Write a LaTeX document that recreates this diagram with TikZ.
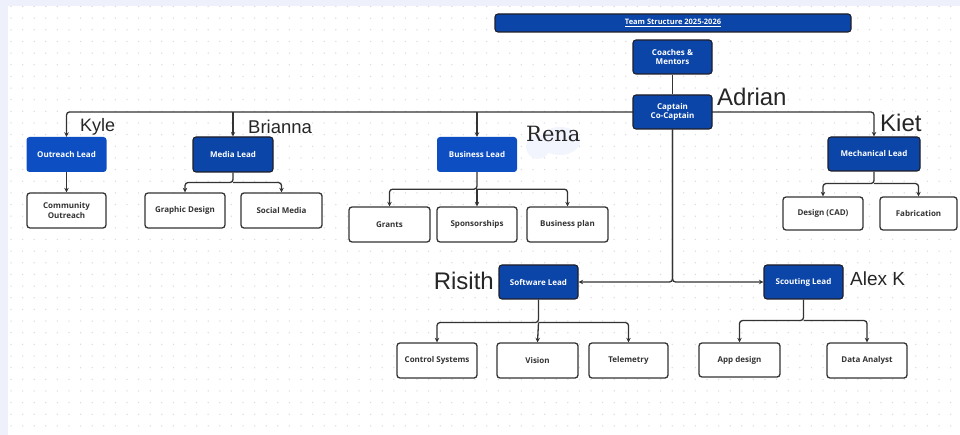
\documentclass[tikz,border=0pt]{standalone}
\usepackage{fontspec}
\setmainfont{Liberation Sans}
\newfontfamily\boxfont{Open Sans}
\newfontfamily\serifname{DejaVu Serif}
\usetikzlibrary{arrows.meta}
\pgfdeclarelayer{paper}
\pgfdeclarelayer{wires}
\pgfsetlayers{paper,wires,main}
\definecolor{bgstrip}{HTML}{EEF1FB}
\definecolor{dotc}{HTML}{D9DBE0}
\definecolor{darkblue}{HTML}{0B45A8}
\definecolor{brightblue}{HTML}{0D4FC2}
\definecolor{linec}{HTML}{333333}
\definecolor{edgec}{HTML}{1E1E28}
\definecolor{blob}{HTML}{F3F5FE}
\tikzset{
  base/.style={rounded corners=3pt, inner sep=1pt, align=center,
    font=\boxfont\bfseries\fontsize{8}{9.5}\selectfont},
  lead/.style={base, fill=darkblue, draw=edgec, line width=1.1pt, text=white},
  leadnb/.style={base, fill=brightblue, text=white},
  sub/.style={base, fill=white, draw=linec, line width=1.3pt, text=linec},
  conn/.style={draw=linec, line width=1.3pt, rounded corners=3pt},
  arr/.style={conn, -{Stealth[length=4.5pt,width=4.5pt]}},
  who/.style={inner sep=0pt, text=black!85, font=\fontsize{18}{20}\selectfont},
}
\begin{document}
\begin{tikzpicture}[x=1pt,y=-1pt]
\useasboundingbox (0,0) rectangle (960,435);
\begin{pgfonlayer}{paper}
\fill[bgstrip] (0,0) rectangle (960,435);
\fill[white] (8,6) rectangle (960,435);
\begin{scope}
\clip (8,6) rectangle (960,435);
\foreach \i in {0,...,81}{
  \foreach \j in {0,...,36}{
    \fill[dotc] ({11+11.6*\i},{6.5+11.65*\j}) circle (0.75);
  }
}
\end{scope}
% faint blob behind Rena
\fill[blob] (538,147) circle (12);
\fill[blob] (560,141) ellipse (20 and 14);
\end{pgfonlayer}

% nodes
\node[lead, minimum width=356, minimum height=18] (title) at (673,23)
  {\fontsize{7.5}{8}\selectfont\underline{Team Structure 2025-2026}};
\node[lead, minimum width=79, minimum height=34] (coach) at (672.5,57) {Coaches \&\\Mentors};
\node[lead, minimum width=79, minimum height=34] (cap) at (672.5,112) {Captain\\Co-Captain};

\node[leadnb, minimum width=80, minimum height=35] (outreach) at (66.5,154.5) {Outreach Lead};
\node[lead, minimum width=80, minimum height=35] (media) at (233,154.5) {Media Lead};
\node[leadnb, minimum width=80, minimum height=35] (business) at (477,154.5) {Business Lead};
\node[lead, minimum width=92, minimum height=34] (mech) at (874,154) {Mechanical Lead};

\node[sub, minimum width=79, minimum height=35] (co) at (66.5,210.5) {Community\\Outreach};
\node[sub, minimum width=80, minimum height=35] (gd) at (185,210.5) {Graphic Design};
\node[sub, minimum width=81, minimum height=35] (sm) at (281.5,210.5) {Social Media};

\node[sub, minimum width=81, minimum height=35] (grants) at (389.5,224.5) {Grants};
\node[sub, minimum width=80, minimum height=35] (spons) at (477,224.5) {Sponsorships};
\node[sub, minimum width=81, minimum height=35] (bplan) at (567.5,224.5) {Business plan};

\node[sub, minimum width=80, minimum height=33] (cad) at (823,213.5) {Design (CAD)};
\node[sub, minimum width=77, minimum height=33] (fab) at (918.5,213.5) {Fabrication};

\node[lead, minimum width=79, minimum height=34] (sw) at (538.5,282) {Software Lead};
\node[lead, minimum width=79, minimum height=34] (sc) at (803.5,282) {Scouting Lead};

\node[sub, minimum width=80, minimum height=35] (cs) at (437,360.5) {Control Systems};
\node[sub, minimum width=81, minimum height=35] (vis) at (537.5,360.5) {Vision};
\node[sub, minimum width=79, minimum height=35] (tel) at (628.5,360.5) {Telemetry};
\node[sub, minimum width=81, minimum height=34] (app) at (739.5,360) {App design};
\node[sub, minimum width=80, minimum height=35] (da) at (867,360.5) {Data Analyst};

% name labels
\node[who, anchor=west, font=\fontsize{24}{26}\selectfont] (adrian) at (717,97) {Adrian};
\node[who, anchor=west] (kyle) at (80,127) {Kyle};
\node[who, anchor=west, font=\fontsize{18.5}{20}\selectfont] (brianna) at (248,127) {Brianna};
\node[who, anchor=west, font=\serifname\fontsize{21}{24}\selectfont] (rena) at (526,134) {Rena};
\node[who, anchor=west, font=\fontsize{24}{26}\selectfont] (kiet) at (880,123) {Kiet};
\node[who, anchor=east, font=\fontsize{24}{26}\selectfont] (risith) at (494,281) {Risith};
\node[who, anchor=west, font=\fontsize{19}{22}\selectfont] (alex) at (850,279) {Alex K};

% connectors
\begin{pgfonlayer}{wires}
\draw[conn] (coach.south) -- (cap.north);
\draw[arr] (cap.center) -| (outreach.north);
\draw[arr] (cap.center) -| (mech.north);
\draw[arr] (cap.center -| media.north) -- (media.north);
\draw[arr] (cap.center -| business.north) -- (business.north);
\draw[arr] (outreach.south) -- (co.north);
\coordinate (mj) at ([yshift=-10pt]media.south);
\draw[arr] (media.south) -- (mj) -| (gd.north);
\draw[arr] (mj) -| (sm.north);
\coordinate (bj) at ([yshift=-17pt]business.south);
\draw[arr] (business.south) -- (bj) -| (grants.north);
\draw[arr] (bj) -- (spons.north);
\draw[arr] (bj) -| (bplan.north);
\coordinate (kj) at ([yshift=-12pt]mech.south);
\draw[arr] (mech.south) -- (kj) -| (cad.north);
\draw[arr] (kj) -| (fab.north);
\draw[arr] (cap.south) |- (sw.east);
\draw[arr] (cap.south) |- (sc.west);
\coordinate (sj) at ([yshift=-23pt]sw.south);
\draw[arr] (sw.south) -- (sj) -| (cs.north);
\draw[arr] (sj) -- (vis.north);
\draw[arr] (sj) -| (tel.north);
\coordinate (cj) at ([yshift=-21pt]sc.south);
\draw[arr] (sc.south) -- (cj) -| (app.north);
\draw[arr] (cj) -| (da.north);
\end{pgfonlayer}
\end{tikzpicture}
\end{document}
